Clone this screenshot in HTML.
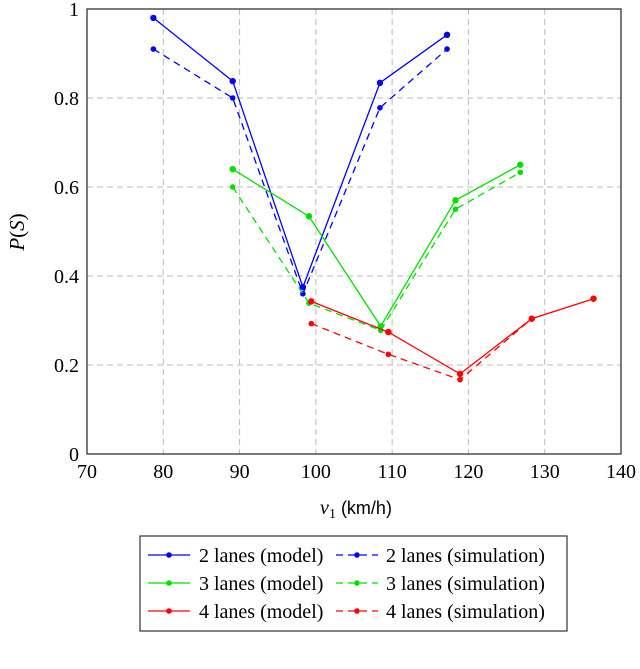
<!DOCTYPE html>
<html><head><meta charset="utf-8"><style>
body{margin:0;background:#fff;width:640px;height:664px;overflow:hidden}
svg text{font-family:"Liberation Serif",serif;fill:#000}
</style></head><body>
<svg id="chart" width="640" height="664" xmlns="http://www.w3.org/2000/svg">
<g id="grid"></g>
<g id="series"></g>
<rect x="87" y="9" width="534" height="445" fill="none" stroke="#333" stroke-width="1.3"/>
<g id="ticks"></g>
<text x="356" y="514" font-size="20" text-anchor="middle"><tspan font-style="italic">v</tspan><tspan font-size="14" dy="4">1</tspan><tspan dy="-4" font-family="Liberation Sans" font-size="18"> (km/h)</tspan></text>
<text transform="translate(24,232) rotate(-90)" font-size="21" text-anchor="middle"><tspan font-style="italic">P</tspan>(<tspan font-style="italic">S</tspan>)</text>
<g>
<rect x="140" y="536" width="427" height="95" fill="#fff" stroke="#333" stroke-width="1.2"/>
<g id="legend-items"></g>
</g>
</svg>
<script>
const xTicks=[70,80,90,100,110,120,130,140];
const yTicks=[0,0.2,0.4,0.6,0.8,1];
const yTickLabels=["0","0.2","0.4","0.6","0.8","1"];
const m2x=[78.7,89.1,98.3,108.4,117.2], m2y=[0.98,0.838,0.375,0.834,0.942];
const s2x=[78.7,89.1,98.3,108.4,117.2], s2y=[0.91,0.80,0.36,0.778,0.91];
const m3x=[89.1,99.1,108.5,118.3,126.8], m3y=[0.64,0.534,0.287,0.57,0.65];
const s3x=[89.1,99.1,108.5,118.3,126.8], s3y=[0.60,0.339,0.278,0.55,0.633];
const m4x=[99.4,109.5,118.9,128.3,136.4], m4y=[0.343,0.274,0.18,0.304,0.349];
const s4x=[99.4,109.5,118.9,128.3], s4y=[0.293,0.224,0.167,0.304];
const legendLabels=["2 lanes (model)","2 lanes (simulation)","3 lanes (model)","3 lanes (simulation)","4 lanes (model)","4 lanes (simulation)"];
const NS="http://www.w3.org/2000/svg";
const X=v=>87+(v-70)*(534/70), Y=v=>454-v*445;
function mk(t,a,p){const e=document.createElementNS(NS,t);for(const k in a)e.setAttribute(k,a[k]);p.appendChild(e);return e;}
const grid=document.getElementById('grid'),ticks=document.getElementById('ticks'),ser=document.getElementById('series');
xTicks.forEach((v,i)=>{
 if(i>0&&i<xTicks.length-1){const l=mk('line',{x1:X(v),x2:X(v),y1:9,y2:454,stroke:'#bbb','stroke-dasharray':'6 4','stroke-width':1},grid);
 }
 const t=mk('text',{x:X(v),y:478,'font-size':20,'text-anchor':'middle'},ticks);t.textContent=v;
 
});
yTicks.forEach((v,i)=>{
 if(i>0&&i<yTicks.length-1){const l=mk('line',{x1:87,x2:621,y1:Y(v),y2:Y(v),stroke:'#bbb','stroke-dasharray':'6 4','stroke-width':1},grid);
 }
 const t=mk('text',{x:79,y:Y(v)+7,'font-size':20,'text-anchor':'end'},ticks);t.textContent=yTickLabels[i];
 
});
const S=[[m2x,m2y,'#0000ff',0,'series-2-lanes-model'],[s2x,s2y,'#0000ff',1,'series-2-lanes-simulation'],
[m3x,m3y,'#00e000',0,'series-3-lanes-model'],[s3x,s3y,'#00e000',1,'series-3-lanes-simulation'],
[m4x,m4y,'#ff0000',0,'series-4-lanes-model'],[s4x,s4y,'#ff0000',1,'series-4-lanes-simulation']];
S.forEach(([xs,ys,c,d,n])=>{
 const g=mk('g',{},ser);
 const p=mk('polyline',{points:xs.map((x,i)=>X(x)+','+Y(ys[i])).join(' '),fill:'none',stroke:c,'stroke-width':1.3,'stroke-dasharray':d?'7 5':'none'},g);
 
 xs.forEach((x,i)=>{const m=mk('circle',{cx:X(x),cy:Y(ys[i]),r:d?2.8:3.2,fill:c},g);
 });
});
const li=document.getElementById('legend-items');
legendLabels.forEach((lab,i)=>{
 const row=Math.floor(i/2),col=i%2,y=555+row*28,c=S[i][2];
 const x0=col?336:148;
 const e=mk('g',{},li);
 mk('line',{x1:x0,x2:x0+42,y1:y,y2:y,stroke:c,'stroke-width':1.3,'stroke-dasharray':col?'7 5':'none'},e);
 mk('circle',{cx:x0+21,cy:y,r:2.8,fill:c},e);
 const t=mk('text',{x:col?386:199,y:y+7,'font-size':20},e);t.textContent=lab;
});
</script>
</body></html>
